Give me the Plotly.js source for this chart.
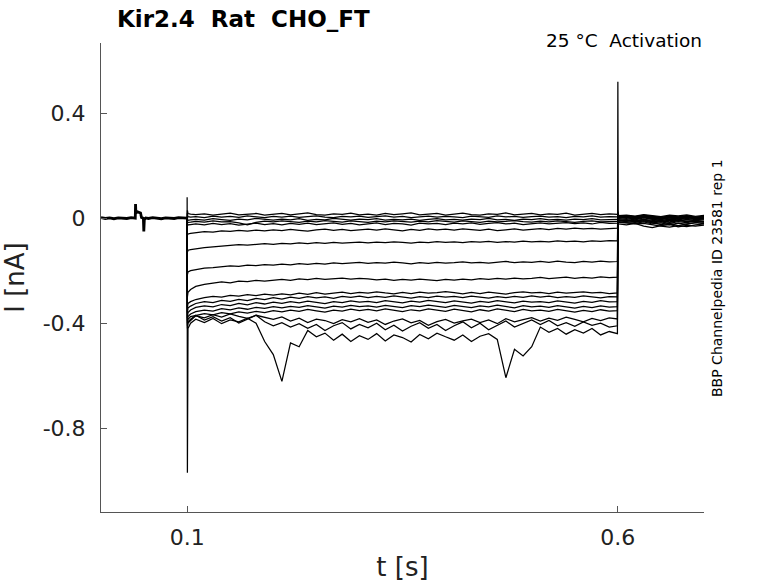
<!DOCTYPE html>
<html>
<head>
<meta charset="utf-8">
<script src="https://cdn.plot.ly/plotly-3.0.1.min.js"></script>
<style>html,body{margin:0;padding:0;background:#fff;}#chart{width:778px;height:583px;}</style>
</head>
<body>
<div id="chart"></div>
<script>
// Holding segment before the step (all sweeps overlap here)
const tHold = [0,0.005,0.01,0.015,0.02,0.025,0.03,0.035,0.0398,0.0401,0.0405,0.0424,0.0459,0.047,0.0492,0.0497,0.0503,0.052,0.055,0.06,0.065,0.07,0.075,0.08,0.085,0.09,0.095,0.0998];
const iHold = [0.002,-0.001,0.001,-0.002,0.001,0.0,-0.001,0.002,0.0,0.054,0.02,0.024,0.02,0.003,0.0,-0.05,-0.005,0.001,-0.001,0.002,0.0,-0.002,0.001,0.0,-0.001,0.002,0.0,0.0];

// Sample times for the sweeps (step at 0.1 s, return at 0.6 s)
const tSweep = [0.1,0.1003,0.1006,0.101,0.104,
  0.11,0.12,0.13,0.14,0.15,0.16,0.17,0.18,0.19,0.20,
  0.21,0.22,0.23,0.24,0.25,0.26,0.27,0.28,0.29,0.30,
  0.31,0.32,0.33,0.34,0.35,0.36,0.37,0.38,0.39,0.40,
  0.41,0.42,0.43,0.44,0.45,0.46,0.47,0.48,0.49,0.50,
  0.51,0.52,0.53,0.54,0.55,0.56,0.57,0.58,0.59,
  0.5995,0.6,0.6004,0.601,
  0.61,0.62,0.63,0.64,0.65,0.66,0.67,0.68,0.69,0.70];

const sweepZ1 = [0,0.03,0.02,0.018,0.016,
  0.014,0.017,0.012,0.016,0.019,0.013,0.015,0.018,0.012,0.016,
  0.018,0.013,0.016,0.02,0.014,0.012,0.017,0.015,0.019,0.013,
  0.016,0.012,0.018,0.014,0.017,0.02,0.013,0.015,0.018,0.012,
  0.016,0.019,0.014,0.012,0.017,0.015,0.02,0.013,0.016,0.018,
  0.013,0.017,0.015,0.019,0.012,0.016,0.018,0.014,0.017,
  0.015,0.01,0.008,0.01,
  0.012,0.008,0.014,0.01,0.006,0.012,0.009,0.013,0.007,0.011];
const sweepZ2 = [0,0.02,0.01,0.006,0.004,
  0.006,0.002,0.008,0.004,0.007,0.003,0.009,0.005,0.002,0.007,
  0.004,0.008,0.003,0.006,0.009,0.004,0.002,0.007,0.005,0.008,
  0.003,0.006,0.009,0.004,0.007,0.002,0.006,0.008,0.004,0.007,
  0.005,0.002,0.008,0.006,0.003,0.009,0.005,0.007,0.003,0.006,
  0.008,0.004,0.006,0.002,0.007,0.005,0.009,0.004,0.006,
  0.005,0.004,0.0,0.002,
  0.004,-0.002,0.003,-0.004,0.001,-0.003,0.002,-0.005,0.0,-0.002];
const sweepZ3 = [0,0.0,-0.006,-0.008,-0.006,
  -0.004,-0.007,-0.002,-0.005,-0.008,-0.003,-0.006,-0.001,-0.005,-0.007,
  -0.003,-0.006,-0.002,-0.008,-0.004,-0.006,-0.001,-0.005,-0.007,-0.003,
  -0.005,-0.002,-0.007,-0.004,-0.006,-0.003,-0.008,-0.004,-0.002,-0.006,
  -0.004,-0.007,-0.003,-0.005,-0.001,-0.006,-0.004,-0.008,-0.003,-0.005,
  -0.002,-0.006,-0.004,-0.007,-0.003,-0.005,-0.002,-0.006,-0.004,
  -0.004,-0.004,-0.006,-0.01,
  -0.008,-0.012,-0.006,-0.014,-0.01,-0.016,-0.009,-0.013,-0.011,-0.015];
const sweepZ4 = [0,-0.02,-0.018,-0.016,-0.015,
  -0.012,-0.015,-0.01,-0.014,-0.013,-0.018,-0.025,-0.016,-0.011,-0.014,
  -0.01,-0.013,-0.016,-0.011,-0.014,-0.009,-0.012,-0.015,-0.01,-0.013,
  -0.016,-0.011,-0.014,-0.01,-0.013,-0.015,-0.011,-0.014,-0.009,-0.012,
  -0.015,-0.01,-0.013,-0.016,-0.011,-0.014,-0.012,-0.009,-0.013,-0.015,
  -0.011,-0.014,-0.01,-0.013,-0.016,-0.012,-0.01,-0.014,-0.012,
  -0.012,-0.008,-0.012,-0.016,
  -0.018,-0.022,-0.02,-0.026,-0.03,-0.034,-0.028,-0.032,-0.025,-0.022];
const sweepZ5 = [0,-0.03,-0.028,-0.025,-0.024,
  -0.022,-0.025,-0.02,-0.024,-0.021,-0.026,-0.022,-0.019,-0.024,-0.021,
  -0.025,-0.02,-0.023,-0.019,-0.024,-0.021,-0.018,-0.023,-0.02,-0.025,
  -0.021,-0.018,-0.024,-0.02,-0.022,-0.026,-0.019,-0.022,-0.02,-0.024,
  -0.019,-0.022,-0.018,-0.023,-0.02,-0.017,-0.022,-0.019,-0.024,-0.02,
  -0.018,-0.022,-0.019,-0.017,-0.021,-0.018,-0.022,-0.016,-0.02,
  -0.019,-0.015,-0.02,-0.022,
  -0.025,-0.02,-0.03,-0.036,-0.028,-0.024,-0.033,-0.027,-0.03,-0.026];
const sweepA = [0,-0.065,-0.062,-0.06,-0.058,
  -0.055,-0.051,-0.053,-0.048,-0.05,-0.046,-0.049,-0.045,-0.048,-0.044,
  -0.047,-0.043,-0.046,-0.049,-0.044,-0.042,-0.046,-0.043,-0.047,-0.044,
  -0.042,-0.045,-0.041,-0.044,-0.048,-0.043,-0.046,-0.041,-0.044,-0.042,
  -0.045,-0.041,-0.043,-0.046,-0.042,-0.047,-0.044,-0.041,-0.045,-0.042,
  -0.04,-0.043,-0.039,-0.042,-0.038,-0.041,-0.039,-0.042,-0.04,
  -0.038,0.0,-0.005,-0.008,
  -0.006,-0.01,-0.004,-0.008,-0.012,-0.007,-0.01,-0.005,-0.009,-0.006];
const sweepB = [0,-0.13,-0.125,-0.122,-0.12,
  -0.116,-0.112,-0.109,-0.106,-0.104,-0.101,-0.103,-0.099,-0.097,-0.1,
  -0.096,-0.098,-0.094,-0.097,-0.093,-0.096,-0.092,-0.095,-0.094,-0.091,
  -0.094,-0.091,-0.093,-0.09,-0.092,-0.095,-0.091,-0.093,-0.089,-0.092,
  -0.09,-0.093,-0.089,-0.091,-0.088,-0.092,-0.089,-0.091,-0.087,-0.09,
  -0.088,-0.09,-0.086,-0.089,-0.087,-0.09,-0.086,-0.088,-0.085,
  -0.086,0.005,0.0,-0.004,
  -0.002,-0.006,0.001,-0.004,-0.008,-0.003,-0.006,-0.001,-0.005,-0.003];
const sweepC = [0,-0.215,-0.21,-0.205,-0.2,
  -0.196,-0.19,-0.188,-0.185,-0.182,-0.184,-0.179,-0.181,-0.177,-0.179,
  -0.175,-0.178,-0.173,-0.176,-0.172,-0.175,-0.17,-0.173,-0.171,-0.168,
  -0.172,-0.169,-0.171,-0.167,-0.17,-0.174,-0.169,-0.172,-0.168,-0.171,
  -0.169,-0.166,-0.17,-0.168,-0.171,-0.167,-0.165,-0.169,-0.166,-0.168,
  -0.165,-0.168,-0.164,-0.167,-0.169,-0.165,-0.167,-0.164,-0.166,
  -0.165,0.012,0.006,0.002,
  0.004,0.0,0.006,0.002,-0.002,0.004,0.0,0.005,0.001,0.003];
const sweepD = [0,-0.3,-0.29,-0.282,-0.272,
  -0.26,-0.252,-0.248,-0.243,-0.246,-0.24,-0.242,-0.237,-0.24,-0.236,
  -0.233,-0.237,-0.231,-0.234,-0.229,-0.233,-0.23,-0.228,-0.232,-0.229,
  -0.231,-0.235,-0.232,-0.237,-0.233,-0.236,-0.232,-0.235,-0.238,-0.233,
  -0.236,-0.232,-0.235,-0.23,-0.233,-0.229,-0.232,-0.228,-0.231,-0.229,
  -0.226,-0.23,-0.227,-0.225,-0.229,-0.226,-0.228,-0.224,-0.226,
  -0.225,0.015,0.008,0.004,
  0.006,0.002,0.008,0.004,0.0,0.006,0.003,0.007,0.002,0.005];
const sweepE1 = [0,-0.34,-0.33,-0.325,-0.318,
  -0.31,-0.303,-0.298,-0.301,-0.294,-0.297,-0.291,-0.295,-0.289,-0.293,
  -0.288,-0.292,-0.286,-0.29,-0.284,-0.289,-0.285,-0.282,-0.287,-0.283,
  -0.286,-0.281,-0.285,-0.288,-0.283,-0.287,-0.282,-0.286,-0.284,-0.28,
  -0.284,-0.288,-0.283,-0.287,-0.282,-0.285,-0.289,-0.284,-0.281,-0.285,
  -0.283,-0.287,-0.282,-0.286,-0.284,-0.281,-0.285,-0.283,-0.287,
  -0.285,0.018,0.01,0.006,
  0.008,0.004,0.01,0.005,0.002,0.008,0.004,0.009,0.003,0.006];
const sweepE2 = [0,-0.36,-0.35,-0.342,-0.335,
  -0.325,-0.318,-0.322,-0.313,-0.317,-0.309,-0.314,-0.306,-0.31,-0.303,
  -0.308,-0.301,-0.306,-0.299,-0.304,-0.3,-0.306,-0.298,-0.302,-0.297,
  -0.303,-0.298,-0.302,-0.296,-0.301,-0.305,-0.299,-0.303,-0.297,-0.301,
  -0.298,-0.303,-0.297,-0.301,-0.305,-0.299,-0.303,-0.298,-0.302,-0.296,
  -0.301,-0.297,-0.303,-0.299,-0.302,-0.296,-0.3,-0.304,-0.299,
  -0.3,0.0,-0.004,-0.008,
  -0.006,-0.01,-0.004,-0.012,-0.008,-0.014,-0.007,-0.011,-0.009,-0.013];
const sweepE3 = [0,-0.38,-0.37,-0.36,-0.35,
  -0.34,-0.334,-0.338,-0.329,-0.333,-0.325,-0.33,-0.322,-0.327,-0.32,
  -0.325,-0.318,-0.323,-0.316,-0.321,-0.326,-0.318,-0.322,-0.315,-0.32,
  -0.317,-0.322,-0.314,-0.319,-0.323,-0.316,-0.32,-0.313,-0.318,-0.322,
  -0.315,-0.32,-0.324,-0.317,-0.321,-0.314,-0.319,-0.323,-0.316,-0.32,
  -0.318,-0.322,-0.315,-0.32,-0.324,-0.317,-0.321,-0.314,-0.319,
  -0.318,-0.01,-0.012,-0.015,
  -0.016,-0.02,-0.014,-0.022,-0.018,-0.025,-0.019,-0.023,-0.017,-0.021];
const sweepE4 = [0,-0.39,-0.385,-0.375,-0.365,
  -0.356,-0.35,-0.354,-0.345,-0.349,-0.342,-0.347,-0.34,-0.344,-0.337,
  -0.342,-0.336,-0.34,-0.333,-0.338,-0.343,-0.335,-0.339,-0.332,-0.337,
  -0.334,-0.339,-0.332,-0.336,-0.341,-0.333,-0.337,-0.331,-0.335,-0.34,
  -0.332,-0.337,-0.341,-0.334,-0.338,-0.331,-0.336,-0.342,-0.333,-0.338,
  -0.335,-0.34,-0.333,-0.338,-0.343,-0.336,-0.341,-0.334,-0.339,
  -0.337,0.008,0.004,0.0,
  0.002,-0.003,0.004,-0.001,-0.005,0.001,-0.004,0.003,-0.002,0.0];
const sweepE5 = [0,-0.4,-0.395,-0.385,-0.375,
  -0.37,-0.364,-0.368,-0.36,-0.365,-0.357,-0.362,-0.355,-0.36,-0.352,
  -0.357,-0.35,-0.355,-0.348,-0.353,-0.358,-0.35,-0.354,-0.347,-0.352,
  -0.348,-0.353,-0.346,-0.351,-0.356,-0.349,-0.353,-0.346,-0.35,-0.355,
  -0.347,-0.352,-0.357,-0.349,-0.354,-0.346,-0.351,-0.356,-0.348,-0.353,
  -0.35,-0.355,-0.348,-0.353,-0.358,-0.351,-0.356,-0.349,-0.354,
  -0.352,-0.005,-0.008,-0.01,
  -0.012,-0.016,-0.01,-0.018,-0.014,-0.02,-0.013,-0.017,-0.011,-0.015];
const sweepF = [0,-0.42,-0.41,-0.4,-0.39,
  -0.372,-0.38,-0.368,-0.377,-0.365,-0.374,-0.382,-0.37,-0.379,-0.386,
  -0.376,-0.392,-0.381,-0.398,-0.385,-0.39,-0.402,-0.387,-0.395,-0.383,
  -0.397,-0.388,-0.405,-0.392,-0.384,-0.399,-0.39,-0.408,-0.394,-0.386,
  -0.4,-0.391,-0.385,-0.398,-0.388,-0.402,-0.383,-0.395,-0.387,-0.379,
  -0.392,-0.381,-0.389,-0.377,-0.386,-0.395,-0.382,-0.39,-0.38,
  -0.384,0.02,0.012,0.008,
  0.01,0.006,0.012,0.007,0.003,0.009,0.005,0.01,0.004,0.008];
const sweepG = [0.08,-0.97,-0.55,-0.42,-0.4,
  -0.385,-0.398,-0.382,-0.402,-0.388,-0.395,-0.381,-0.4,-0.47,-0.52,
  -0.622,-0.475,-0.49,-0.428,-0.452,-0.438,-0.465,-0.442,-0.47,-0.448,
  -0.462,-0.44,-0.468,-0.445,-0.455,-0.472,-0.443,-0.46,-0.438,-0.452,
  -0.465,-0.445,-0.47,-0.45,-0.44,-0.462,-0.608,-0.5,-0.525,-0.49,
  -0.415,-0.435,-0.42,-0.442,-0.425,-0.438,-0.42,-0.445,-0.432,
  -0.44,0.52,0.03,0.0,
  0.004,-0.002,0.006,0.0,-0.004,0.002,-0.002,0.004,-0.001,0.002];
const sweepH = [0,-0.41,-0.4,-0.395,-0.385,
  -0.37,-0.388,-0.375,-0.392,-0.379,-0.4,-0.386,-0.37,-0.395,-0.41,
  -0.398,-0.415,-0.402,-0.42,-0.405,-0.428,-0.41,-0.398,-0.422,-0.405,
  -0.418,-0.4,-0.425,-0.408,-0.43,-0.412,-0.398,-0.42,-0.405,-0.428,
  -0.41,-0.395,-0.418,-0.4,-0.425,-0.408,-0.392,-0.415,-0.402,-0.388,
  -0.405,-0.39,-0.41,-0.398,-0.412,-0.395,-0.408,-0.4,-0.415,
  -0.41,0.0,-0.006,-0.01,
  -0.008,-0.014,-0.01,-0.018,-0.024,-0.02,-0.028,-0.022,-0.016,-0.012];

const sweeps = [sweepZ1,sweepZ2,sweepZ3,sweepZ4,sweepZ5,sweepA,sweepB,sweepC,sweepD,
                sweepE1,sweepE2,sweepE3,sweepE4,sweepE5,sweepF,sweepH,sweepG];

const xTickVals = [0.1, 0.6];
const xTickText = ['0.1', '0.6'];
const yTickVals = [-0.8, -0.4, 0, 0.4];
const yTickText = ['-0.8', '-0.4', '0', '0.4'];

const traces = [{
  x: tHold, y: iHold, type: 'scatter', mode: 'lines',
  line: {color: '#000', width: 2.8}, hoverinfo: 'skip'
}];
sweeps.forEach(s => traces.push({
  x: tSweep, y: s, type: 'scatter', mode: 'lines',
  line: {color: '#000', width: 1.25}, hoverinfo: 'skip'
}));

const axisCol = '#555';
const layout = {
  width: 778, height: 583,
  margin: {l: 101, r: 74, t: 43, b: 71},
  paper_bgcolor: '#fff', plot_bgcolor: '#fff',
  showlegend: false,
  font: {family: 'DejaVu Sans, sans-serif', color: '#222'},
  title: {
    text: '<b>Kir2.4  Rat  CHO_FT</b>',
    font: {family: 'DejaVu Sans, sans-serif', size: 23, color: '#000'},
    x: 117/778, xanchor: 'left', xref: 'container',
    y: 1 - 19/583, yanchor: 'middle', yref: 'container'
  },
  xaxis: {
    range: [0, 0.7], tickvals: xTickVals, ticktext: xTickText,
    ticks: 'inside', ticklen: 6, tickcolor: axisCol, tickwidth: 1,
    showline: true, linecolor: axisCol, linewidth: 1,
    showgrid: false, zeroline: false,
    tickfont: {size: 22, color: '#222'},
    ticklabelstandoff: 6,
    title: {text: 't [s]', font: {size: 26, color: '#222'}, standoff: 8}
  },
  yaxis: {
    range: [-1.12, 0.668], tickvals: yTickVals, ticktext: yTickText,
    ticks: 'inside', ticklen: 6, tickcolor: axisCol, tickwidth: 1,
    showline: true, linecolor: axisCol, linewidth: 1,
    showgrid: false, zeroline: false,
    tickfont: {size: 22, color: '#222'},
    ticklabelstandoff: 10,
    title: {text: 'I [nA]', font: {size: 26, color: '#222'}, standoff: 12}
  },
  annotations: [
    {text: '25 °C  Activation', xref: 'paper', yref: 'paper', x: 1, y: 1 + 2/469,
     xanchor: 'right', yanchor: 'middle', showarrow: false,
     font: {size: 18.5, color: '#000'}},
    {text: 'BBP Channelpedia ID 23581 rep 1', xref: 'paper', yref: 'paper',
     x: 1 + 13/603, y: (512-278)/469, xanchor: 'center', yanchor: 'middle',
     textangle: -90, showarrow: false, font: {size: 14, color: '#000'}}
  ]
};

Plotly.newPlot('chart', traces, layout, {displayModeBar: false, staticPlot: true});
</script>
</body>
</html>
